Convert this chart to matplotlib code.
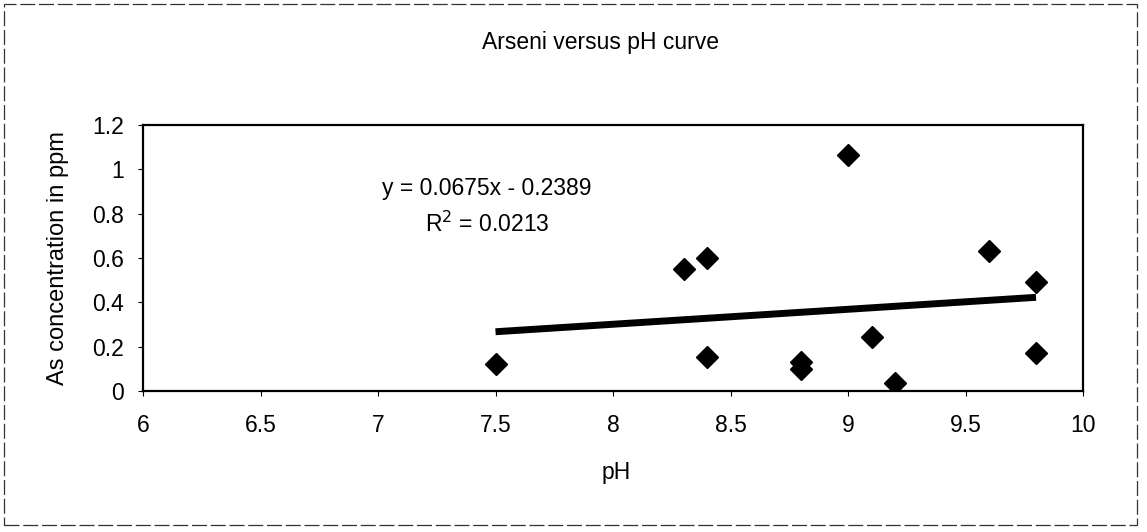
import matplotlib
matplotlib.use("Agg")
import matplotlib.pyplot as plt
import numpy as np
from matplotlib.patches import Rectangle

plt.rcParams['font.family'] = ['Liberation Sans', 'DejaVu Sans']

# Data
ph = [7.5, 8.3, 8.4, 8.4, 8.8, 8.8, 9.0, 9.1, 9.2, 9.6, 9.8, 9.8]
arsenic = [0.12, 0.55, 0.60, 0.155, 0.13, 0.10, 1.065, 0.245, 0.035, 0.63, 0.49, 0.17]
trend_slope = 0.0675
trend_intercept = -0.2389
r_squared = 0.0213
x_ticks = [6, 6.5, 7, 7.5, 8, 8.5, 9, 9.5, 10]
x_tick_labels = ['6', '6.5', '7', '7.5', '8', '8.5', '9', '9.5', '10']
y_ticks = [0, 0.2, 0.4, 0.6, 0.8, 1.0, 1.2]
y_tick_labels = ['0', '0.2', '0.4', '0.6', '0.8', '1', '1.2']

W, H = 1147, 532
fig = plt.figure(figsize=(W / 100, H / 100), dpi=100)
ax = fig.add_axes([143 / W, 1 - 391 / H, (1083 - 143) / W, (391 - 125) / H])

# outer (scanned) border
fig.patches.append(Rectangle((4 / W, 7 / H), (1137 - 4) / W, (528 - 7) / H,
                             transform=fig.transFigure, fill=False,
                             edgecolor='#333333', lw=0.9, linestyle=(0, (12, 3))))

# trend line
tx = np.array([min(ph), max(ph)])
ax.plot(tx, trend_slope * tx + trend_intercept, color='black', lw=5,
        solid_capstyle='butt', zorder=2)

# scatter
ax.plot(ph, arsenic, linestyle='none', marker='D', markersize=11.5,
        color='black', zorder=3)

FS = 16.5
ax.set_xlim(6, 10)
ax.set_ylim(0, 1.2)
ax.set_xticks(x_ticks)
ax.set_xticklabels(x_tick_labels)
ax.set_yticks(y_ticks)
ax.set_yticklabels(y_tick_labels)
ax.tick_params(direction='out', length=3.5, width=0.8, labelsize=FS, colors='black')
ax.tick_params(axis='x', pad=13)
ax.tick_params(axis='y', pad=10)
for s in ax.spines.values():
    s.set_linewidth(1.6)
    s.set_color('black')

ax.set_xlabel('pH', fontsize=FS, va='center')
ax.xaxis.set_label_coords((616 - 143) / 940, (391 - 472) / 266)
ax.set_ylabel('As concentration in ppm', fontsize=17, va='center')
ax.yaxis.set_label_coords((58 - 143) / 940, 0.5)

fig.text(601 / W, 1 - 43 / H, 'Arseni versus pH curve', ha='center', va='center',
         fontsize=FS)

sign = '-' if trend_intercept < 0 else '+'
ax.text(7.464, 0.915, f'y = {trend_slope:.4f}x {sign} {abs(trend_intercept):.4f}',
        ha='center', va='center', fontsize=FS)
ax.text(7.464, 0.75, f'R$^2$ = {r_squared:.4f}', ha='center', va='center', fontsize=FS)

fig.savefig('out.png', dpi=100)
